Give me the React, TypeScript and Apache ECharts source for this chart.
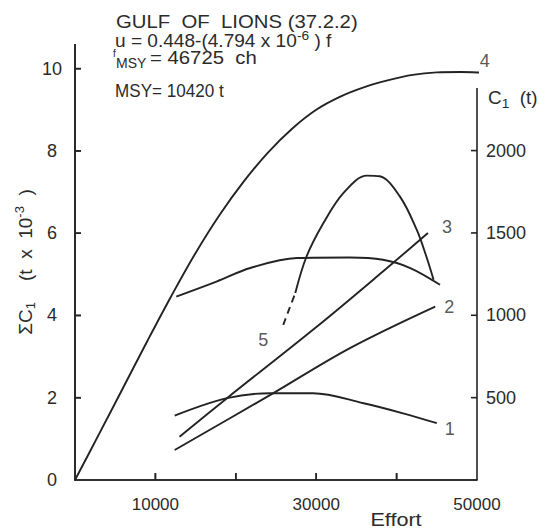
import React, { useEffect, useRef } from 'react';
import * as echarts from 'echarts';

const FONT = '"Liberation Sans", Arial, sans-serif';
const INK = '#232323';
const TXT = '#2b2b2b';

// ---- layout ----
const CHART_W = 546;
const CHART_H = 530;
const GRID_LEFT = 75;
const GRID_RIGHT = 69;
const GRID_BOTTOM = 50;
const LEFT_GRID_TOP = 44;
const RIGHT_GRID_TOP = 88;

// ---- axis ranges ----
const effortMin = 0;
const effortMax = 50000;
const leftMax = 10.6; // ΣC1 (t x 10^-3)
const rightMax = 2380; // C1 (t)

// ---- ticks and tick labels ----
const xTickValues = [10000, 20000, 30000, 40000];
const xLabelValues = [10000, 30000, 50000];
const leftTickValues = [2, 4, 6, 8, 10];
const leftLabelValues = [0, 2, 4, 6, 8, 10];
const rightTickValues = [500, 1000, 1500, 2000];
const rightLabelValues = [500, 1000, 1500, 2000];

// ---- curve 4 : ΣC1 (t x 10^-3), left axis ----
const effort4 = [0, 3000, 6000, 9000, 12000, 15000, 18000, 21000, 24000, 27000, 30000, 33000, 36000, 39000, 42000, 45000, 48000, 51000, 52200];
const sumCatch4 = [0, 1.12, 2.25, 3.38, 4.48, 5.52, 6.45, 7.26, 7.96, 8.54, 9.0, 9.32, 9.55, 9.72, 9.85, 9.91, 9.92, 9.9, 9.89];

// ---- curves on right axis : C1 (t) ----
const effort1 = [12400, 18900, 24300, 29600, 35900, 40800, 45000];
const catch1 = [391, 497, 527, 527, 466, 405, 345];

const effort2 = [12400, 24300, 34200, 44800];
const catch2 = [182, 517, 801, 1053];

const effort3 = [13000, 18900, 30100, 38300, 43900];
const catch3 = [263, 497, 932, 1266, 1500];

const effortArc = [12600, 17600, 21800, 27600, 34200, 38300, 41700, 45400];
const catchArc = [1114, 1205, 1287, 1348, 1351, 1337, 1287, 1185];

const effort5Dashed = [25900, 27400];
const catch5Dashed = [942, 1135];
const effort5 = [27400, 28800, 30900, 33400, 36300, 37900, 40400, 42500, 43700, 44600];
const catch5 = [1135, 1357, 1560, 1743, 1848, 1844, 1722, 1520, 1357, 1216];

const pairs = (xs: number[], ys: number[]) => xs.map((x, i) => [x, ys[i]]);
const last = (a: number[]) => a[a.length - 1];
const only = (shown: number[]) => (v: number) => (shown.some((s) => Math.abs(s - v) < 1e-6) ? String(v) : '');

const plotWidth = CHART_W - GRID_LEFT - GRID_RIGHT;
const leftHeight = CHART_H - LEFT_GRID_TOP - GRID_BOTTOM;
const baseY = CHART_H - GRID_BOTTOM;
const xTickLen = (7 * leftMax) / leftHeight;
const leftTickLen = (6 * (effortMax - effortMin)) / plotWidth;
const xToPx = (v: number) => GRID_LEFT + ((v - effortMin) / (effortMax - effortMin)) * plotWidth;
const leftToPx = (v: number) => baseY - (v / leftMax) * leftHeight;

const lineSeries = (name: string, xs: number[], ys: number[], axis: number, dashed = false) => ({
  name,
  type: 'line',
  xAxisIndex: axis,
  yAxisIndex: axis,
  data: pairs(xs, ys),
  smooth: 0.35,
  showSymbol: false,
  clip: false,
  lineStyle: { color: INK, width: 1.9, type: dashed ? [7, 5] : 'solid' },
  silent: true,
});

const frameLine = (pts: number[][]) => ({
  type: 'line',
  xAxisIndex: 0,
  yAxisIndex: 0,
  data: pts,
  showSymbol: false,
  clip: false,
  silent: true,
  z: 3,
  lineStyle: { color: INK, width: 1.6 },
});

const numberLabel = (text: string, offset: number[]) => ({
  show: true,
  position: 'inside',
  formatter: text,
  offset,
  fontFamily: FONT,
  fontSize: 18,
  color: TXT,
});

const seg = (a: number[], b: number[]) => ({
  type: 'line',
  shape: { x1: a[0], y1: a[1], x2: b[0], y2: b[1] },
  style: { stroke: INK, lineWidth: 1.6 },
});

// right axis line and ticks (grid 1 scale)
const rightFrame = {
  type: 'custom',
  xAxisIndex: 1,
  yAxisIndex: 1,
  silent: true,
  clip: false,
  data: [[effortMax, 0]],
  renderItem: (_p: any, api: any) => {
    const b = api.coord([effortMax, 0]);
    const children: any[] = [seg(b, api.coord([effortMax, rightMax]))];
    rightTickValues.forEach((v) => {
      const p = api.coord([effortMax, v]);
      children.push(seg(p, [p[0] - 6, p[1]]));
    });
    return { type: 'group', children };
  },
};

// left axis, bottom axis and their ticks on the left grid
const leftFrame = [
  frameLine([[effortMin, 0], [effortMin, leftMax]]),
  frameLine([[effortMin, 0], [effortMax, 0]]),
  ...xTickValues.map((v) => frameLine([[v, 0], [v, xTickLen]])),
  ...leftTickValues.map((v) => frameLine([[effortMin, v], [effortMin + leftTickLen, v]])),
];

// the same frame as filled bars on top (grid layout)
const bar = (x: number, y: number, w: number, h: number) => ({
  type: 'rect',
  silent: true,
  z: 100,
  shape: { x, y, width: w, height: h },
  style: { fill: INK },
});
const frameBars: any[] = [
  bar(GRID_LEFT - 0.8, LEFT_GRID_TOP, 1.6, leftHeight + 0.8),
  bar(GRID_LEFT - 0.8, baseY - 0.8, plotWidth + 1.6, 1.6),
  ...xTickValues.map((v) => bar(xToPx(v) - 0.8, baseY - 7, 1.6, 7)),
  ...leftTickValues.map((v) => bar(GRID_LEFT, leftToPx(v) - 0.8, 6, 1.6)),
];

const richBase = { fontFamily: FONT, fontSize: 18, color: TXT, lineHeight: 24 };
const richSup = { fontFamily: FONT, fontSize: 13, color: TXT, lineHeight: 14, verticalAlign: 'top' };
const richSub = { fontFamily: FONT, fontSize: 13, color: TXT, lineHeight: 14, verticalAlign: 'bottom' };
const nameBase = { fontFamily: FONT, fontSize: 19, color: TXT, lineHeight: 24 };

const textGraphics: any[] = [
  {
    type: 'text', x: 116, y: 21.5, scaleX: 1.13, silent: true,
    style: { text: 'GULF  OF  LIONS (37.2.2)', fontFamily: FONT, fontSize: 18, fill: TXT, align: 'left', verticalAlign: 'middle' },
  },
  {
    type: 'text', x: 115, y: 41, scaleX: 1.06, silent: true,
    style: {
      text: '{a|u = 0.448-(4.794 x 10}{p|-6}{a| ) f}',
      rich: { a: richBase, p: richSup },
      fill: TXT, align: 'left', verticalAlign: 'middle',
    },
  },
  {
    type: 'text', x: 113, y: 53, silent: true,
    style: { text: 'f', fontFamily: FONT, fontSize: 10, fill: TXT, align: 'left', verticalAlign: 'middle' },
  },
  {
    type: 'text', x: 116, y: 63, silent: true,
    style: { text: 'MSY', fontFamily: FONT, fontSize: 14, fill: TXT, align: 'left', verticalAlign: 'middle' },
  },
  {
    type: 'text', x: 150, y: 58, scaleX: 1.13, silent: true,
    style: { text: '= 46725  ch', fontFamily: FONT, fontSize: 18, fill: TXT, align: 'left', verticalAlign: 'middle' },
  },
  {
    type: 'text', x: 115, y: 91, scaleX: 0.95, silent: true,
    style: { text: 'MSY= 10420 t', fontFamily: FONT, fontSize: 18, fill: TXT, align: 'left', verticalAlign: 'middle' },
  },
  {
    type: 'text', x: 488, y: 98, scaleX: 1.05, silent: true,
    style: {
      text: '{a|C}{s|1}{a|  (t)}',
      rich: { a: richBase, s: richSub },
      fill: TXT, align: 'left', verticalAlign: 'middle',
    },
  },
  {
    type: 'text', x: 396, y: 520, scaleX: 1.2, silent: true,
    style: { text: 'Effort', fontFamily: FONT, fontSize: 18, fill: TXT, align: 'center', verticalAlign: 'middle' },
  },
];

export default function App() {
  const ref = useRef<HTMLDivElement>(null);
  useEffect(() => {
    if (!ref.current) return;
    const chart = echarts.init(ref.current, null, { renderer: 'svg' });
    chart.setOption({
      animation: false,
      backgroundColor: '#ffffff',
      grid: [
        { left: GRID_LEFT, right: GRID_RIGHT, top: LEFT_GRID_TOP, bottom: GRID_BOTTOM },
        { left: GRID_LEFT, right: GRID_RIGHT, top: RIGHT_GRID_TOP, bottom: GRID_BOTTOM },
      ],
      xAxis: [
        {
          gridIndex: 0,
          type: 'value',
          min: effortMin,
          max: effortMax,
          interval: 10000,
          axisLine: { show: false, onZero: false },
          axisTick: { show: false },
          axisLabel: { margin: 16, fontSize: 17, fontFamily: FONT, color: TXT, formatter: only(xLabelValues) },
          splitLine: { show: false },
        },
        { gridIndex: 1, type: 'value', min: effortMin, max: effortMax, show: false },
      ],
      yAxis: [
        {
          gridIndex: 0,
          type: 'value',
          min: 0,
          max: leftMax,
          interval: 2,
          position: 'left',
          axisLine: { show: false, onZero: false },
          axisTick: { show: false },
          axisLabel: { align: 'center', margin: 23, fontSize: 18, fontFamily: FONT, color: TXT, formatter: only(leftLabelValues) },
          splitLine: { show: false },
          name: '{a|ΣC}{s|1}{a|    (t  x  10}{p|-3}{a|  )}',
          nameLocation: 'middle',
          nameGap: 38,
          nameMoveOverlap: false,
          nameTextStyle: { rich: { a: nameBase, s: richSub, p: richSup } },
        },
        {
          gridIndex: 1,
          type: 'value',
          min: 0,
          max: rightMax,
          interval: 500,
          position: 'right',
          axisLine: { show: false, onZero: false },
          axisTick: { show: false },
          axisLabel: { margin: 9, fontSize: 18, fontFamily: FONT, color: TXT, formatter: only(rightLabelValues) },
          splitLine: { show: false },
        },
      ],
      series: [
        rightFrame,
        ...leftFrame,
        lineSeries('4', effort4, sumCatch4, 0),
        lineSeries('1', effort1, catch1, 1),
        lineSeries('2', effort2, catch2, 1),
        lineSeries('3', effort3, catch3, 1),
        lineSeries('arc', effortArc, catchArc, 1),
        lineSeries('5 dashed', effort5Dashed, catch5Dashed, 1, true),
        lineSeries('5', effort5, catch5, 1),
        {
          type: 'scatter',
          xAxisIndex: 0,
          yAxisIndex: 0,
          clip: false,
          silent: true,
          symbolSize: 1,
          itemStyle: { color: 'rgba(0,0,0,0)' },
          data: [{ value: [last(effort4), last(sumCatch4)], label: numberLabel('4', [-10, -12]) }],
        },
        {
          type: 'scatter',
          xAxisIndex: 1,
          yAxisIndex: 1,
          clip: false,
          silent: true,
          symbolSize: 1,
          itemStyle: { color: 'rgba(0,0,0,0)' },
          data: [
            { value: [last(effort1), last(catch1)], label: numberLabel('1', [13, 6]) },
            { value: [last(effort2), last(catch2)], label: numberLabel('2', [14, 0]) },
            { value: [last(effort3), last(catch3)], label: numberLabel('3', [19, -6]) },
            { value: [effort5Dashed[0], catch5Dashed[0]], label: numberLabel('5', [-20, 15]) },
          ],
        },
      ],
      graphic: [...textGraphics, ...frameBars],
    });
    return () => chart.dispose();
  }, []);
  return <div ref={ref} style={{ position: 'absolute', left: 0, top: 0, width: 546, height: 530 }} />;
}
